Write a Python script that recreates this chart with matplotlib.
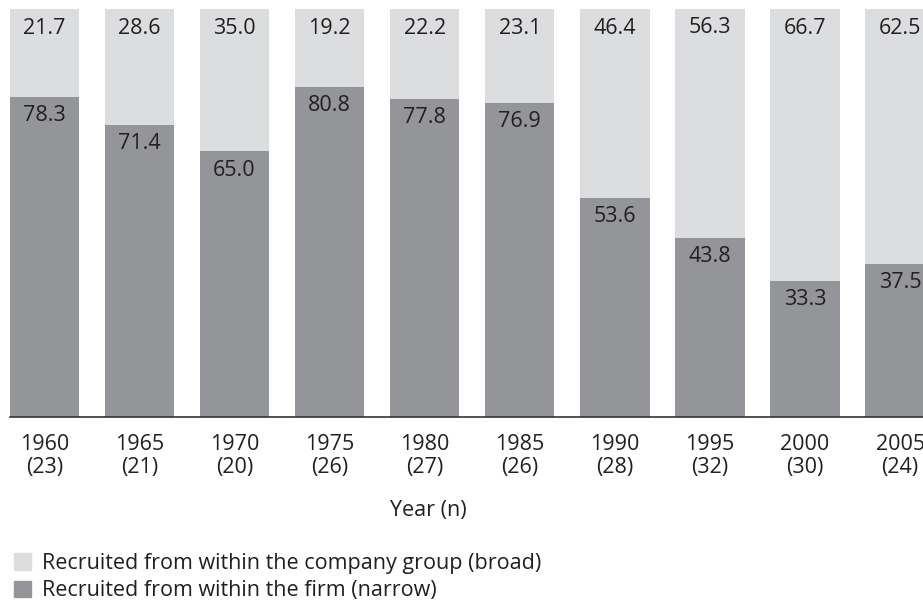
import matplotlib
matplotlib.use("Agg")
from matplotlib import pyplot as plt
from matplotlib.patches import Patch

years = ["1960", "1965", "1970", "1975", "1980", "1985", "1990", "1995", "2000", "2005"]
counts = [23, 21, 20, 26, 27, 26, 28, 32, 30, 24]
narrow = [78.3, 71.4, 65.0, 80.8, 77.8, 76.9, 53.6, 43.8, 33.3, 37.5]
broad = [21.7, 28.6, 35.0, 19.2, 22.2, 23.1, 46.4, 56.3, 66.7, 62.5]

light = "#dcdddf"
dark = "#939598"
ink = "#231f20"

plt.rcParams["font.family"] = ["Open Sans", "DejaVu Sans"]
plt.rcParams["font.size"] = 15.5

fig = plt.figure(figsize=(9.23, 6.0), dpi=100)
ax = fig.add_axes([10 / 923, 1 - 417 / 600, 913 / 923, (417 - 8.5) / 600])

x = list(range(len(years)))
w = 0.73
ax.bar(x, narrow, width=w, color=dark, linewidth=0)
ax.bar(x, broad, width=w, bottom=narrow, color=light, linewidth=0)

for i in x:
    ax.annotate(f"{broad[i]:.1f}", (i, narrow[i] + broad[i]), xytext=(0, -18.0),
                textcoords="offset points", ha="center", va="baseline", color=ink)
    ax.annotate(f"{narrow[i]:.1f}", (i, narrow[i]), xytext=(0, -17.3),
                textcoords="offset points", ha="center", va="baseline", color=ink)

ax.set_xlim(-0.36, 9.24)
ax.set_ylim(0, 100)
ax.set_xticks(x)
ax.set_xticklabels([f"{y}\n({n})" for y, n in zip(years, counts)], color=ink,
                   linespacing=1.12)
ax.tick_params(axis="x", length=0, pad=12)
ax.set_yticks([])
for s in ["top", "right", "left"]:
    ax.spines[s].set_visible(False)
ax.spines["bottom"].set_color("#333333")
ax.spines["bottom"].set_linewidth(1.2)

ax.set_xlabel("Year (n)", color=ink, labelpad=16)
ax.xaxis.label.set_x((428 - 10) / 913)

handles = [Patch(color=light), Patch(color=dark)]
labels = ["Recruited from within the company group (broad)",
          "Recruited from within the firm (narrow)"]
fig.legend(handles, labels, loc="lower left", bbox_to_anchor=(5 / 923, -10 / 600),
           frameon=False, handlelength=0.8, handleheight=0.8, handletextpad=0.5,
           labelspacing=0.3, borderaxespad=0, labelcolor=ink)

fig.savefig("out.png", dpi=100)
